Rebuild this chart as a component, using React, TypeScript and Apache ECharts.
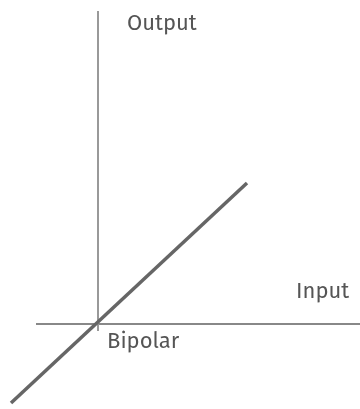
import React, { useEffect, useRef } from "react";
import * as echarts from "echarts";

const transferLine: number[][] = [[-0.87, -0.79], [1.49, 1.41]];
const inputAxis: number[][] = [[-0.62, 0], [2.62, 0]];
const outputAxis: number[][] = [[0, -0.07], [0, 3.13]];
const labels = { output: "Output", input: "Input", mode: "Bipolar" };

export default function App() {
  const ref = useRef<HTMLDivElement>(null);
  useEffect(() => {
    if (!ref.current) return;
    const chart = echarts.init(ref.current, null, { renderer: "svg" });
    const font = "'Fira Sans', 'Noto Sans', sans-serif";
    chart.setOption({
      animation: false,
      grid: { left: 0, right: 0, top: 0, bottom: 0 },
      xAxis: { type: "value", min: -0.98, max: 2.62, show: false },
      yAxis: { type: "value", min: -0.85, max: 3.24, show: false },
      series: [
        { type: "line", data: inputAxis, symbol: "none", lineStyle: { color: "#888", width: 2 }, silent: true },
        { type: "line", data: outputAxis, symbol: "none", lineStyle: { color: "#999", width: 2 }, silent: true },
        { type: "line", data: transferLine, symbol: "none", lineStyle: { color: "#666", width: 3.5 }, silent: true },
      ],
      graphic: [
        { type: "text", left: 127, top: 11, style: { text: labels.output, fill: "#555", font: `22px ${font}` } },
        { type: "text", left: 296, top: 279, style: { text: labels.input, fill: "#555", font: `22px ${font}` } },
        { type: "text", left: 107, top: 329, style: { text: labels.mode, fill: "#555", font: `22px ${font}` } },
      ],
    });
    return () => chart.dispose();
  }, []);
  return <div ref={ref} style={{ position: "fixed", left: 0, top: 0, width: 360, height: 409 }} />;
}
